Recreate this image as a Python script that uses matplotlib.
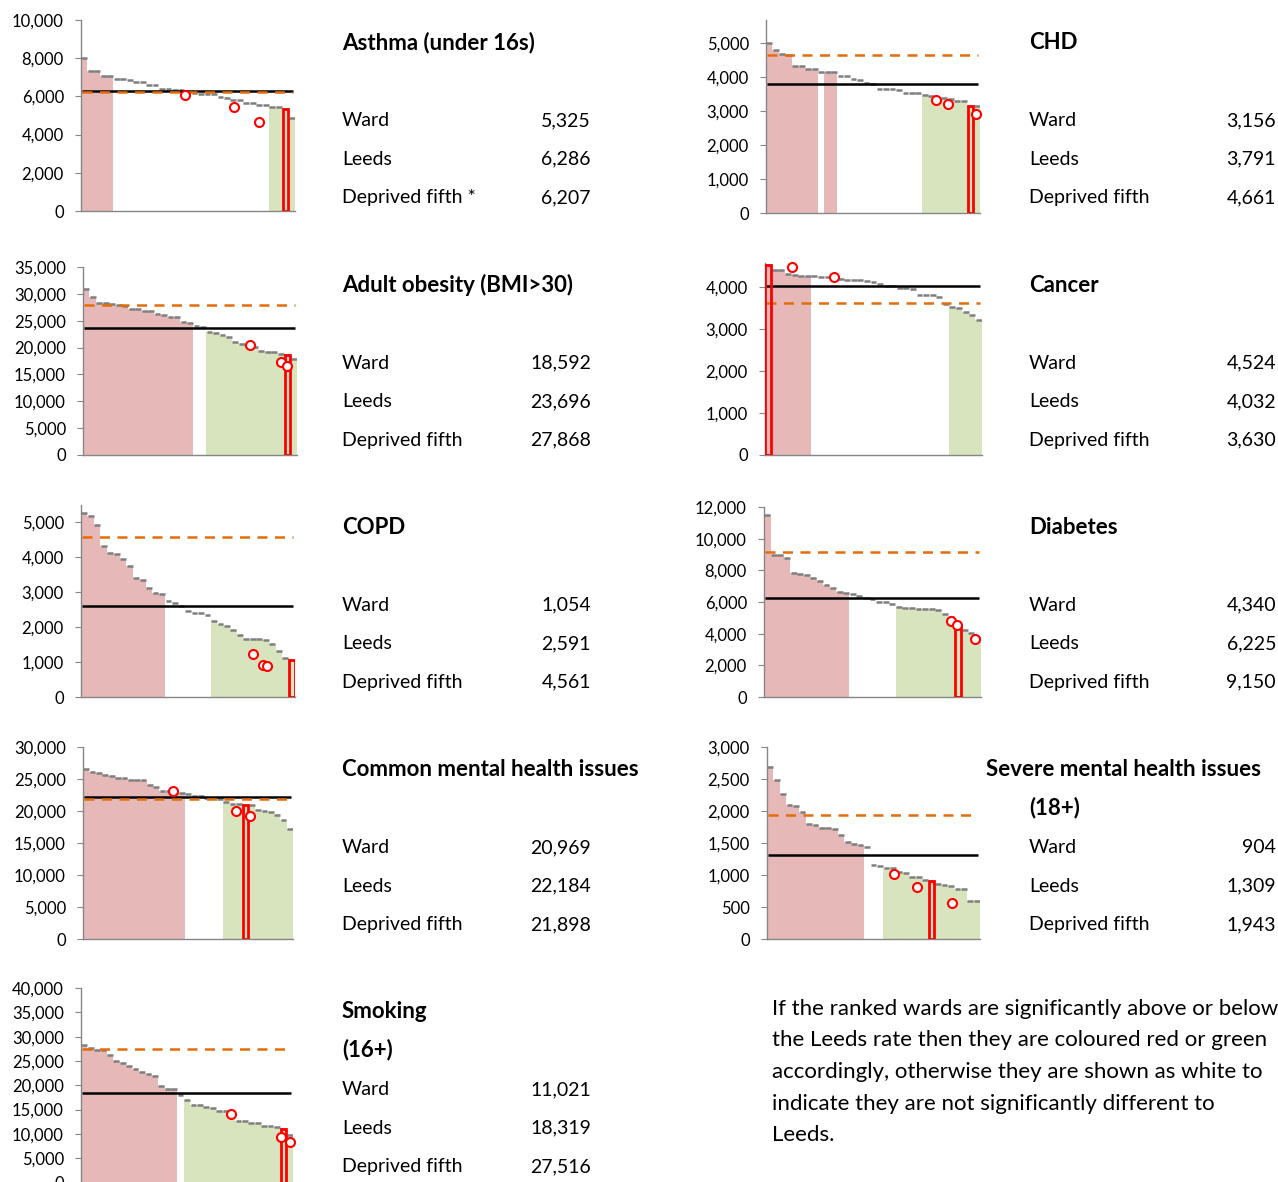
import matplotlib
matplotlib.use("Agg")
import matplotlib.pyplot as plt
import numpy as np
from matplotlib.ticker import FuncFormatter, MultipleLocator

W, H = 1278, 1182
plt.rcParams["font.family"] = ["Lato", "DejaVu Sans"]

# Ranked ward rates (33 wards, highest first); sig: R above, W not different, G below Leeds
ASTHMA_VALUES = [8000, 7340, 7320, 7090, 7070, 6900, 6890, 6870, 6780, 6760, 6610, 6590,
                 6400, 6380, 6330, 6310, 6210, 6190, 6140, 6120, 6110, 5960, 5940, 5820,
                 5800, 5680, 5660, 5560, 5540, 5470, 5450, 5325, 4890]
ASTHMA_SIG = "RRRRR" + "W" * 24 + "GGGG"
ASTHMA_DOTS_X = [15.6, 23.1, 26.9]
ASTHMA_DOTS_Y = [6073, 5445, 4640]

CHD_VALUES = [5000, 4790, 4670, 4660, 4340, 4320, 4240, 4230, 4160, 4150, 4140, 4040,
              4020, 3940, 3920, 3820, 3800, 3660, 3650, 3640, 3630, 3545, 3535, 3525,
              3465, 3450, 3380, 3370, 3360, 3305, 3295, 3156, 3150]
CHD_SIG = "R" * 8 + "W" + "RR" + "W" * 13 + "G" * 9
CHD_DOTS_X = [25.7, 27.5, 31.9]
CHD_DOTS_Y = [3320, 3222, 2927]

OBESITY_VALUES = [30900, 29400, 28300, 28250, 28200, 27850, 27750, 27250, 27150, 26900,
                  26800, 26250, 26150, 25750, 25650, 24700, 24550, 23950, 23850, 22900,
                  22800, 22400, 21900, 21000, 20700, 20250, 20150, 19350, 19250, 19150,
                  18800, 18592, 17840]
OBESITY_SIG = "R" * 17 + "WW" + "G" * 14
OBESITY_DOTS_X = [25.2, 30.1, 31.0]
OBESITY_DOTS_Y = [20390, 17280, 16600]

CANCER_VALUES = [4524, 4420, 4405, 4315, 4305, 4275, 4265, 4260, 4255, 4250, 4220, 4210,
                 4180, 4175, 4170, 4140, 4130, 4070, 4035, 4025, 3980, 3975, 3970, 3820,
                 3815, 3810, 3760, 3600, 3530, 3510, 3420, 3340, 3213]
CANCER_SIG = "R" * 7 + "W" * 21 + "G" * 5
CANCER_DOTS_X = [3.6, 10.0]
CANCER_DOTS_Y = [4491, 4254]

COPD_VALUES = [5240, 5160, 4920, 4300, 4100, 4090, 3930, 3740, 3410, 3330, 3120, 2970,
               2930, 2750, 2680, 2600, 2450, 2400, 2395, 2350, 2160, 2080, 2020, 1925,
               1765, 1650, 1648, 1645, 1635, 1505, 1305, 1110, 1054]
COPD_SIG = "R" * 13 + "W" * 7 + "G" * 13
COPD_DOTS_X = [26.1, 27.6, 28.2]
COPD_DOTS_Y = [1229, 905, 876]

DIABETES_VALUES = [11470, 9000, 8950, 8770, 7830, 7800, 7710, 7500, 7330, 7080, 6870, 6660,
                   6550, 6510, 6380, 6240, 6220, 6030, 6010, 5870, 5700, 5620, 5600, 5570,
                   5555, 5540, 5470, 5260, 5050, 4340, 4225, 4015, 3700]
DIABETES_SIG = "R" * 13 + "W" * 7 + "G" * 13
DIABETES_DOTS_X = [27.9, 28.8, 31.6]
DIABETES_DOTS_Y = [4796, 4542, 3655]

CMH_VALUES = [26615, 26050, 26000, 25570, 25400, 25160, 25100, 24900, 24850, 24790, 24000,
              23800, 23200, 23150, 22820, 22800, 22660, 22420, 22380, 22100, 22000, 21900,
              21350, 21150, 21050, 20969, 20885, 20200, 20000, 19800, 19430, 18650, 17200]
CMH_SIG = "R" * 16 + "W" * 6 + "G" * 11
CMH_DOTS_X = [13.7, 23.6, 25.8]
CMH_DOTS_Y = [23177, 20052, 19167]

SMH_VALUES = [2680, 2490, 2270, 2090, 2085, 1985, 1790, 1780, 1740, 1728, 1725, 1620,
              1510, 1480, 1470, 1445, 1150, 1140, 1115, 1105, 1040, 1030, 975, 965,
              915, 904, 860, 850, 825, 785, 775, 595, 590]
SMH_SIG = "R" * 15 + "WWW" + "G" * 15
SMH_DOTS_X = [19.25, 22.8, 28.1]
SMH_DOTS_Y = [1014, 816, 556]

SMOKING_VALUES = [28265, 27650, 27250, 27200, 26140, 24900, 24560, 23870, 23320, 22640,
                  22360, 21810, 19760, 19210, 19180, 18050, 16870, 16000, 15960, 15450,
                  15400, 14760, 14730, 13580, 12700, 12670, 12220, 12190, 11550, 11520,
                  11490, 11021, 9670]
SMOKING_SIG = "R" * 15 + "W" + "G" * 17
SMOKING_DOTS_X = [22.9, 30.7, 32.0]
SMOKING_DOTS_Y = [14128, 9327, 8366]

TITLES = [["Asthma (under 16s)"], ["CHD"], ["Adult obesity (BMI>30)"], ["Cancer"],
          ["COPD"], ["Diabetes"], ["Common mental health issues"],
          ["Severe mental health issues", "(18+)"], ["Smoking", "(16+)"]]
WARD_INDEX = [31, 31, 31, 0, 32, 29, 25, 25, 31]
LEEDS = [6286, 3791, 23696, 4032, 2591, 6225, 22184, 1309, 18319]
DEPRIVED = [6207, 4661, 27868, 3630, 4561, 9150, 21898, 1943, 27516]
DEPRIVED_LABEL = ["Deprived fifth *"] + ["Deprived fifth"] * 8
Y_MAX = [10000, 5680, 35000, 4580, 5480, 12000, 30000, 3000, 40000]
Y_STEP = [2000, 1000, 5000, 1000, 1000, 2000, 5000, 500, 5000]

NOTE_LINES = ["If the ranked wards are significantly above or below",
              "the Leeds rate then they are coloured red or green",
              "accordingly, otherwise they are shown as white to",
              "indicate they are not significantly different to",
              "Leeds."]

PANELS = [
    (ASTHMA_VALUES, ASTHMA_SIG, ASTHMA_DOTS_X, ASTHMA_DOTS_Y),
    (CHD_VALUES, CHD_SIG, CHD_DOTS_X, CHD_DOTS_Y),
    (OBESITY_VALUES, OBESITY_SIG, OBESITY_DOTS_X, OBESITY_DOTS_Y),
    (CANCER_VALUES, CANCER_SIG, CANCER_DOTS_X, CANCER_DOTS_Y),
    (COPD_VALUES, COPD_SIG, COPD_DOTS_X, COPD_DOTS_Y),
    (DIABETES_VALUES, DIABETES_SIG, DIABETES_DOTS_X, DIABETES_DOTS_Y),
    (CMH_VALUES, CMH_SIG, CMH_DOTS_X, CMH_DOTS_Y),
    (SMH_VALUES, SMH_SIG, SMH_DOTS_X, SMH_DOTS_Y),
    (SMOKING_VALUES, SMOKING_SIG, SMOKING_DOTS_X, SMOKING_DOTS_Y),
]

# layout in pixels: axes box (left, right, top, bottom)
AX_BOX = [(81, 295, 20, 211), (766, 980, 20, 213),
          (83, 297, 267, 455), (765, 982, 263, 455),
          (81, 295, 505, 697), (764, 981, 507, 697),
          (83, 293, 747, 939), (767, 980, 747, 939),
          (81, 293, 988, 1182.5)]
TEXT_X = [(342, 591), (1029, 1276)]
TITLE_X_OVERRIDE = {7: 986}
ROW0 = 49.3
ROW_PITCH = 38.5
PANEL_PITCH = 242.25

FILL = {"R": "#E6B9B8", "W": "white", "G": "#D7E4BD"}
GRAY = "#868686"
FS_TEXT = 14
FS_TITLE = 16

fig = plt.figure(figsize=(W / 100, H / 100), dpi=100)


def fig_text(x, y, s, **kw):
    fig.text(x / W, 1 - y / H, s, va="baseline", **kw)


for i, (values, sig, dots_x, dots_y) in enumerate(PANELS):
    left, right, top, bottom = AX_BOX[i]
    ax = fig.add_axes([left / W, 1 - bottom / H, (right - left) / W, (bottom - top) / H])
    n = len(values)
    x = np.arange(n)
    ax.bar(x, values, width=1.0, color=[FILL[s] for s in sig], linewidth=0, zorder=1)
    ax.hlines(values, x - 0.45, x + 0.45, color="#7f7f7f", lw=1.8, zorder=2)
    ax.hlines(LEEDS[i], -0.3, n - 0.8, color="black", lw=1.8, zorder=3)
    ax.hlines(DEPRIVED[i], -0.3, n - 0.8, color="#E46C0A", lw=1.8,
              linestyles=(0, (4, 3)), zorder=4)
    w = WARD_INDEX[i]
    ax.bar(w, values[w], width=0.85, facecolor="none", edgecolor="red", lw=2, zorder=5)
    ax.plot(dots_x, dots_y, "o", mfc="white", mec="red", ms=6.5, mew=1.5, zorder=6,
            clip_on=False)

    ax.set_xlim(-0.5, n - 0.5)
    ax.set_ylim(0, Y_MAX[i])
    ax.yaxis.set_major_locator(MultipleLocator(Y_STEP[i]))
    ax.yaxis.set_major_formatter(FuncFormatter(lambda v, p: f"{int(v):,}"))
    ax.set_xticks([])
    for side in ("top", "right"):
        ax.spines[side].set_visible(False)
    for side in ("left", "bottom"):
        ax.spines[side].set_color(GRAY)
        ax.spines[side].set_linewidth(1.0)
    ax.tick_params(axis="y", length=4.3, width=0.8, color=GRAY, labelsize=12, pad=8)

    # side text block
    col = i % 2
    row = i // 2
    tx, vx = TEXT_X[col]
    base = ROW0 + PANEL_PITCH * row
    for k, line in enumerate(TITLES[i]):
        x0 = TITLE_X_OVERRIDE.get(i, tx) if k == 0 else tx
        fig_text(x0, base + k * ROW_PITCH, line, fontweight="bold", fontsize=FS_TITLE)
    labels = ["Ward", "Leeds", DEPRIVED_LABEL[i]]
    nums = [values[w], LEEDS[i], DEPRIVED[i]]
    for k, (lab, num) in enumerate(zip(labels, nums)):
        y = base + (k + 2) * ROW_PITCH
        fig_text(tx, y, lab, ha="left", fontsize=FS_TEXT)
        fig_text(vx, y, f"{num:,}", ha="right", fontsize=FS_TEXT)

for k, line in enumerate(NOTE_LINES):
    fig_text(772, 1015 + 31.5 * k, line, fontsize=16)

fig.savefig("out.png", dpi=100)
